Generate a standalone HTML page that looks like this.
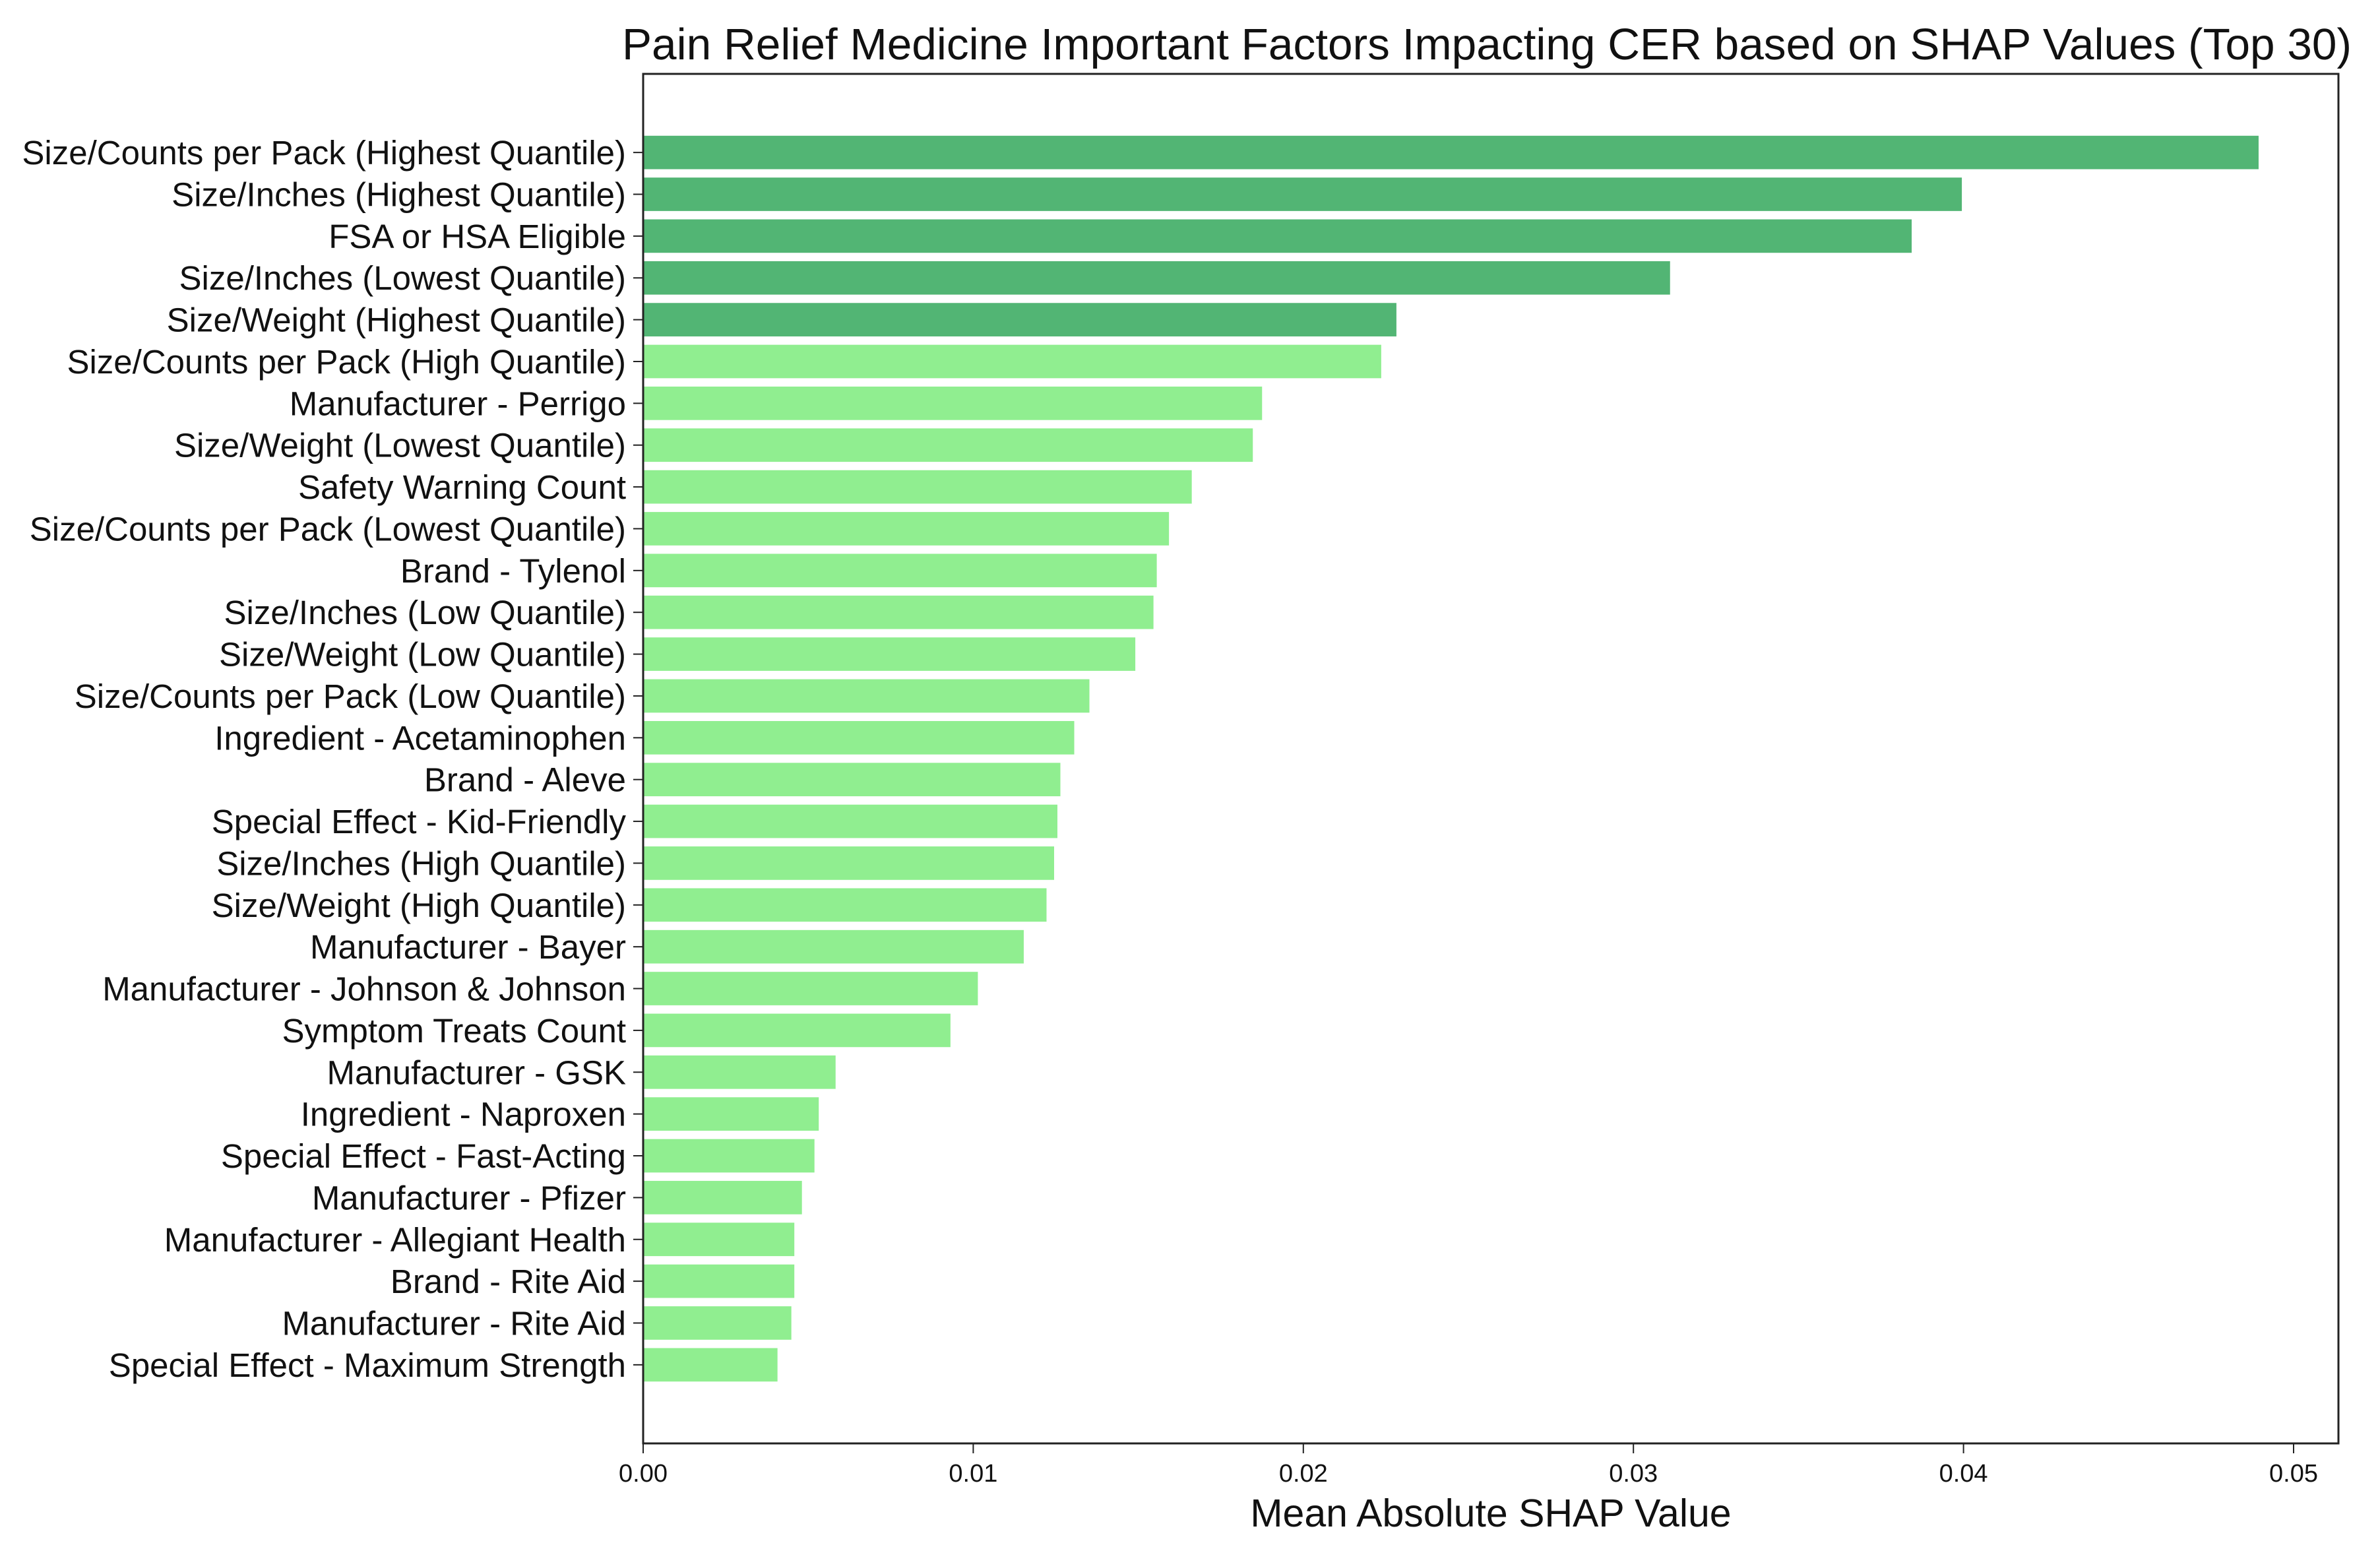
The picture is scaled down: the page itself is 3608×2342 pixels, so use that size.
<!DOCTYPE html>
<html><head><meta charset="utf-8"><style>
html,body{margin:0;padding:0;background:#fff;}
svg{display:block;font-family:"Liberation Sans","DejaVu Sans",sans-serif;}
</style></head><body>
<svg id="chart" width="3608" height="2342" viewBox="0 0 3608 2342" xmlns="http://www.w3.org/2000/svg">
<rect width="3608" height="2342" fill="#fff"/>
<text x="2254" y="90" font-size="67" text-anchor="middle" fill="#111" textLength="2622" lengthAdjust="spacingAndGlyphs">Pain Relief Medicine Important Factors Impacting CER based on SHAP Values (Top 30)</text>
<g id="bars"></g>
<g id="yticks"></g>
<g id="xticks"></g>
<rect x="975" y="112" width="2570" height="2076" fill="none" stroke="#222" stroke-width="3"/>
<text x="2260" y="2314" font-size="59" text-anchor="middle" fill="#111">Mean Absolute SHAP Value</text>
</svg>
<script>
const categories = ["Size/Counts per Pack (Highest Quantile)","Size/Inches (Highest Quantile)","FSA or HSA Eligible","Size/Inches (Lowest Quantile)","Size/Weight (Highest Quantile)","Size/Counts per Pack (High Quantile)","Manufacturer - Perrigo","Size/Weight (Lowest Quantile)","Safety Warning Count","Size/Counts per Pack (Lowest Quantile)","Brand - Tylenol","Size/Inches (Low Quantile)","Size/Weight (Low Quantile)","Size/Counts per Pack (Low Quantile)","Ingredient - Acetaminophen","Brand - Aleve","Special Effect - Kid-Friendly","Size/Inches (High Quantile)","Size/Weight (High Quantile)","Manufacturer - Bayer","Manufacturer - Johnson & Johnson","Symptom Treats Count","Manufacturer - GSK","Ingredient - Naproxen","Special Effect - Fast-Acting","Manufacturer - Pfizer","Manufacturer - Allegiant Health","Brand - Rite Aid","Manufacturer - Rite Aid","Special Effect - Maximum Strength"];
const values = [0.04894,0.03995,0.03843,0.03111,0.02282,0.02236,0.01875,0.01847,0.01662,0.01593,0.01556,0.01546,0.01491,0.01352,0.01306,0.01264,0.01255,0.01245,0.01222,0.01153,0.01014,0.00931,0.00583,0.00532,0.00519,0.00481,0.00458,0.00458,0.00449,0.00407];
const topCount = 5;
const xTicks = [0,0.01,0.02,0.03,0.04,0.05];
const xTickLabels = ["0.00","0.01","0.02","0.03","0.04","0.05"];

const NS="http://www.w3.org/2000/svg";
const x0=975, xPerUnit=50040;
function xs(v){return x0+v*xPerUnit;}
const yTop=112, yBot=2188;
const n=categories.length;
const slot=(yBot-yTop)/(n-1+2*1.88);
function ys(i){return yTop+slot*1.88+slot*i;}
const barH=slot*0.8;
const bars=document.getElementById('bars'), yt=document.getElementById('yticks'), xt=document.getElementById('xticks');
categories.forEach((c,i)=>{
  const r=document.createElementNS(NS,'rect');
  
  
  r.setAttribute('x',xs(0)); r.setAttribute('y',ys(i)-barH/2);
  r.setAttribute('width',xs(values[i])-xs(0)); r.setAttribute('height',barH);
  r.setAttribute('fill', i<topCount ? '#52b574' : '#90ee90');
  bars.appendChild(r);
  const l=document.createElementNS(NS,'line');
  
  
  l.setAttribute('x1',x0-15); l.setAttribute('x2',x0); l.setAttribute('y1',ys(i)); l.setAttribute('y2',ys(i));
  l.setAttribute('stroke','#222'); l.setAttribute('stroke-width','2');
  yt.appendChild(l);
  const t=document.createElementNS(NS,'text');
  
  
  t.setAttribute('x',x0-26); t.setAttribute('y',ys(i)+18);
  t.setAttribute('font-size','51'); t.setAttribute('text-anchor','end'); t.setAttribute('fill','#111');
  t.textContent=c;
  yt.appendChild(t);
});
xTicks.forEach((v,i)=>{
  const l=document.createElementNS(NS,'line');
  
  
  l.setAttribute('x1',xs(v)); l.setAttribute('x2',xs(v)); l.setAttribute('y1',yBot); l.setAttribute('y2',yBot+15);
  l.setAttribute('stroke','#222'); l.setAttribute('stroke-width','2');
  xt.appendChild(l);
  const t=document.createElementNS(NS,'text');
  
  
  t.setAttribute('x',xs(v)); t.setAttribute('y',yBot+58);
  t.setAttribute('font-size','38'); t.setAttribute('text-anchor','middle'); t.setAttribute('fill','#111');
  t.textContent=xTickLabels[i];
  xt.appendChild(t);
});
</script>
</body></html>
